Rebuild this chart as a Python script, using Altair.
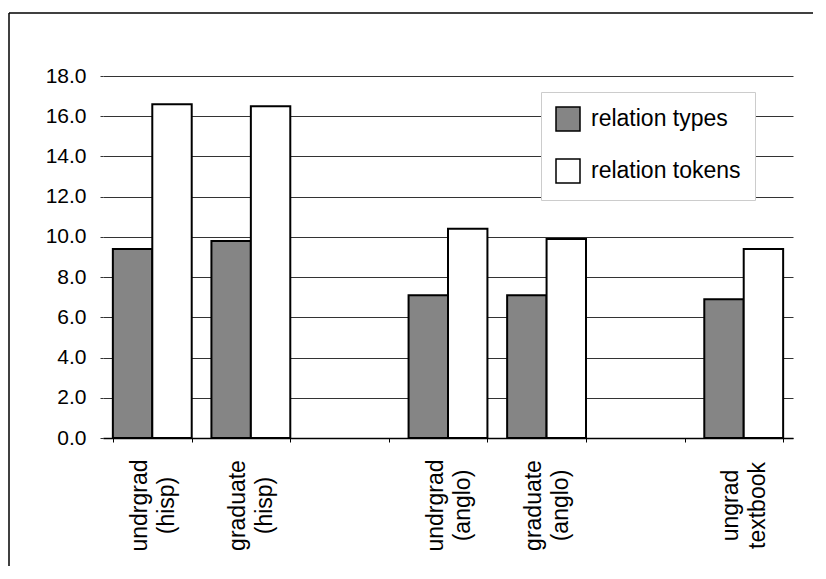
import altair as alt
import pandas as pd

# x slots (two empty slots make the gaps between the three clusters)
slots = ["undrgrad|(hisp)", "graduate|(hisp)", "gap1", "undrgrad|(anglo)",
         "graduate|(anglo)", "gap2", "ungrad|textbook"]
groups = ["undrgrad|(hisp)", "graduate|(hisp)", "undrgrad|(anglo)",
          "graduate|(anglo)", "ungrad|textbook"]
series = ["relation types", "relation tokens"]
types_vals = [9.4, 9.8, 7.1, 7.1, 6.9]
tokens_vals = [16.6, 16.5, 10.4, 9.9, 9.4]
y_ticks = [0, 2, 4, 6, 8, 10, 12, 14, 16, 18]

rows = []
for g, v in zip(groups, types_vals):
    rows.append({"group": g, "series": series[0], "value": v})
for g, v in zip(groups, tokens_vals):
    rows.append({"group": g, "series": series[1], "value": v})
df = pd.DataFrame(rows)

FONT = "Liberation Sans"

bars = alt.Chart(df).mark_bar(stroke="black", strokeWidth=2).encode(
    x=alt.X(
        "group:N",
        scale=alt.Scale(domain=slots, paddingInner=0.2, paddingOuter=0.1),
        axis=alt.Axis(
            title=None, labelAngle=270, labelAlign="center", labelBaseline="middle",
            labelPadding=63, labelFontSize=23, labelFont=FONT, labelColor="black",
            labelLineHeight=27, labelOffset=-13,
            labelExpr="indexof(datum.label,'gap')==0 ? '' : split(datum.label,'|')",
            tickSize=4, tickColor="black", tickBand="extent",
            domainColor="black", domainWidth=1.5, grid=False,
        ),
    ),
    xOffset=alt.XOffset("series:N", sort=series,
                        scale=alt.Scale(domain=series, paddingInner=0, paddingOuter=0)),
    y=alt.Y(
        "value:Q",
        scale=alt.Scale(domain=[0, 18], nice=False),
        axis=alt.Axis(
            title=None, values=y_ticks, format=".1f", grid=True, gridColor="#333",
            gridWidth=1, domain=False, tickSize=3, tickColor="#333",
            labelFontSize=21, labelFont=FONT, labelPadding=14, labelColor="black",
        ),
    ),
    color=alt.Color(
        "series:N", sort=series,
        scale=alt.Scale(domain=series, range=["#858585", "#ffffff"]),
        legend=alt.Legend(
            title=None, orient="none", legendX=438, legendY=16,
            symbolType="square", symbolSize=576, symbolStrokeColor="black",
            symbolStrokeWidth=1.5, symbolOpacity=1,
            labelFontSize=23, labelFont=FONT, labelColor="black", labelOffset=10,
            padding=14, rowPadding=22, fillColor="white", strokeColor="#cccccc",
        ),
    ),
)

frame_df = pd.DataFrame({"k": [0]})
left_line = alt.Chart(frame_df).mark_rule(color="black", strokeWidth=1.5).encode(
    x=alt.value(-94), y=alt.value(-63), y2=alt.value(500))
top_line = alt.Chart(frame_df).mark_rule(color="black", strokeWidth=1.5).encode(
    x=alt.value(-94), x2=alt.value(740), y=alt.value(-63))

chart = alt.layer(bars, left_line, top_line).properties(
    width=690, height=362,
    autosize=alt.AutoSizeParams(type="none"),
    padding={"left": 95, "top": 68, "right": 20, "bottom": 128},
).configure_view(stroke=None)

chart.save("out.html", embed_options={"renderer": "svg", "actions": False})
